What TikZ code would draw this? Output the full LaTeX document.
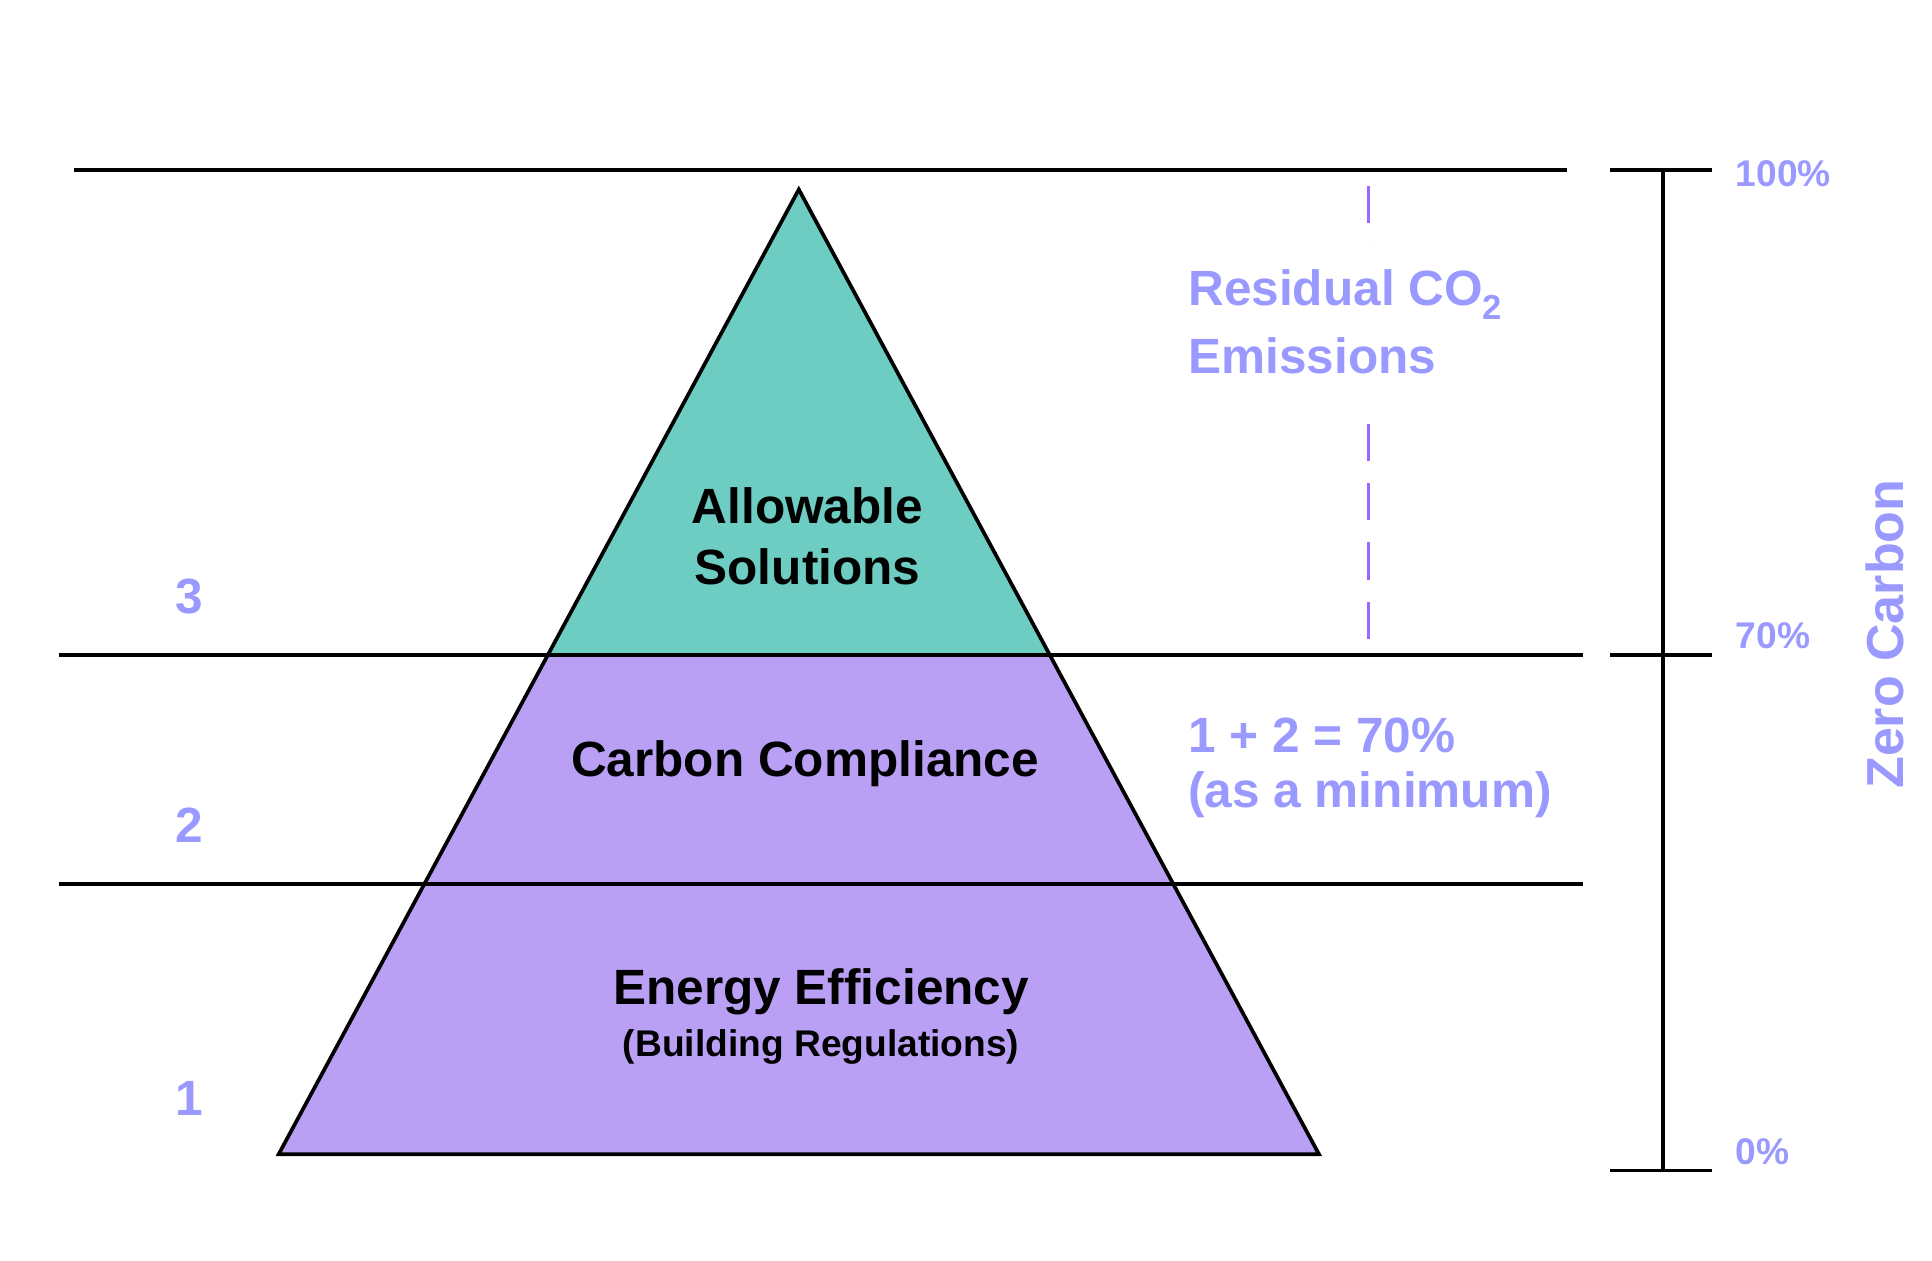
\documentclass[tikz,border=0pt]{standalone}
\usepackage{fontspec}
\setmainfont{Liberation Sans}
\begin{document}
\begin{tikzpicture}[x=1pt,y=-1pt,line width=3pt,
  lbl/.style={text=lp,font=\bfseries\fontsize{40}{48}\selectfont,inner sep=0pt},
  blk/.style={text=black,font=\bfseries\fontsize{40}{50}\selectfont,align=center,inner sep=0pt},
  pct/.style={text=lp,font=\bfseries\fontsize{30}{36}\selectfont,anchor=west,inner sep=0pt}]
\definecolor{lp}{RGB}{153,153,255}
\definecolor{dp}{RGB}{153,102,255}
\definecolor{teal1}{RGB}{110,205,195}
\definecolor{purp}{RGB}{185,160,245}
\useasboundingbox (0,0) rectangle (1560,1018);
% pyramid
\coordinate (apex) at (645,153);
\coordinate (bl) at (225,932);
\coordinate (br) at (1065,932);
\coordinate (ml) at (442,529);
\coordinate (mr) at (848,529);
\fill[purp] (ml) -- (mr) -- (br) -- (bl) -- cycle;
\fill[teal1] (apex) -- (mr) -- (ml) -- cycle;
\draw[line join=miter] (apex) -- (br) -- (bl) -- cycle;
% horizontal lines
\draw (60,137) -- (1265,137);
\draw (48,529) -- (1278,529);
\draw (48,714) -- (1278,714);
% scale
\draw (1343,137) -- (1343,945);
\foreach \y in {137,529,945} \draw (1300,\y) -- (1382,\y);
\node[pct] (p100) at (1400,140) {100\%};
\node[pct] (p70) at (1400,513) {70\%};
\node[pct] (p0) at (1400,930) {0\%};
\node[lbl,rotate=90,font=\bfseries\fontsize{42}{48}\selectfont] (zc) at (1522,512) {Zero Carbon};
% numbers
\node[lbl] (n3) at (153,482) {3};
\node[lbl] (n2) at (153,666) {2};
\node[lbl] (n1) at (153,887) {1};
% pyramid texts
\node[blk] (as) at (652,433) {Allowable\\Solutions};
\node[blk] (cc) at (650,617) {Carbon Compliance};
\node[blk] (ee) at (663,801) {Energy Efficiency};
\node[blk,font=\bfseries\fontsize{30}{36}\selectfont] (br2) at (663,845) {(Building Regulations)};
% dashed
\draw[dp,dash pattern=on 30pt off 18pt] (1105,150) -- (1105,198);
\draw[dp,dash pattern=on 30pt off 18pt] (1105,342) -- (1105,518);
\node[lbl,anchor=west] (r1) at (958,238) {Residual CO\textsubscript{2}};
\node[lbl,anchor=west] (r2) at (958,287) {Emissions};
\node[lbl,anchor=west] (m1) at (958,594) {1 + 2 = 70\%};
\node[lbl,anchor=west] (m2) at (958,642) {(as a minimum)};
\end{tikzpicture}
\end{document}
